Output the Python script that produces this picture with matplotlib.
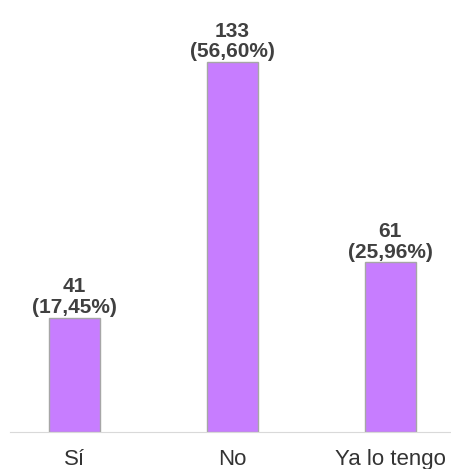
import matplotlib
matplotlib.use('Agg')
import matplotlib.pyplot as plt

# datos de la encuesta
categorias = ['Sí', 'No', 'Ya lo tengo']
valores = [41, 133, 61]
porcentajes = ['17,45%', '56,60%', '25,96%']

plt.rcParams['font.family'] = ['Liberation Sans', 'DejaVu Sans']

fig = plt.figure(figsize=(4.52, 4.69), dpi=100)
ax = fig.add_axes([0.022, 0.079, 0.978, 0.921])

x = list(range(len(categorias)))
barras = ax.bar(x, valores, width=0.32, color='#C77DFF', edgecolor='#A6A6A6', linewidth=1)

# etiquetas encima de cada barra
for b, v, p in zip(barras, valores, porcentajes):
    ax.annotate(f'{v}\n({p})', (b.get_x() + b.get_width() / 2, b.get_height()),
                xytext=(0, 0.5), textcoords='offset points', ha='center', va='bottom',
                fontsize=15, fontweight='bold', color='#404040', linespacing=1.12)

ax.set_xlim(-0.41, 2.39)
ax.set_ylim(0, 155.3)
ax.set_xticks(x)
ax.set_xticklabels(categorias, fontsize=16, color='#333333')
ax.tick_params(axis='x', length=0, pad=12)
ax.set_yticks([])
for s in ['top', 'right', 'left']:
    ax.spines[s].set_visible(False)
ax.spines['bottom'].set_color('#D9D9D9')

fig.savefig('out.png', dpi=100)
